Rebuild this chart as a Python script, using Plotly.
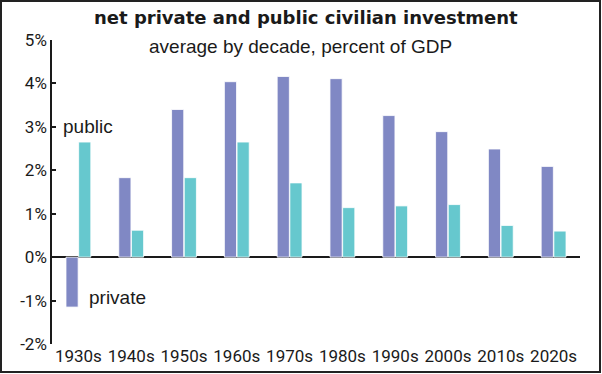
import plotly.graph_objects as go

decades = ["1930s", "1940s", "1950s", "1960s", "1970s", "1980s", "1990s", "2000s", "2010s", "2020s"]
private = [-1.15, 1.83, 3.40, 4.04, 4.16, 4.11, 3.26, 2.89, 2.49, 2.09]
public = [2.65, 0.62, 1.83, 2.65, 1.71, 1.14, 1.18, 1.21, 0.73, 0.60]
ytick_vals = [-2, -1, 0, 1, 2, 3, 4, 5]
ytick_text = ["-2%", "-1%", "0%", "1%", "2%", "3%", "4%", "5%"]

PRIV_COLOR = "#8088C4"
PUB_COLOR = "#66C8CE"
TXT = "#1a1a1a"
TICKFONT = "Roboto"
LABFONT = "Liberation Sans"

W, H = 602, 374
L, R, T, B = 52, 22, 40, 30
pw, ph = W - L - R, H - T - B

def px(x):
    return (x - L) / pw

def py(y):
    return (H - B - y) / ph

fig = go.Figure()
fig.add_trace(go.Bar(x=decades, y=private, name="private", marker_color=PRIV_COLOR,
                     marker_line_color="rgba(255,255,255,0.8)", marker_line_width=1))
fig.add_trace(go.Bar(x=decades, y=public, name="public", marker_color=PUB_COLOR,
                     marker_line_color="rgba(255,255,255,0.8)", marker_line_width=1))

fig.update_layout(
    width=W, height=H,
    margin=dict(l=L, r=R, t=T, b=B, pad=0, autoexpand=False),
    paper_bgcolor="white", plot_bgcolor="white",
    showlegend=False,
    barmode="group", bargap=0.52, bargroupgap=0.04,
    font=dict(family=TICKFONT, size=17, color=TXT),
    xaxis=dict(showline=False, showgrid=False, ticks="", zeroline=False, automargin=False,
               tickfont=dict(family=TICKFONT, size=17, color=TXT)),
    yaxis=dict(range=[-2, 5], tickvals=ytick_vals, ticktext=ytick_text, automargin=False,
               showgrid=False, showline=True, linecolor=TXT, linewidth=1.5,
               ticks="inside", ticklen=4, tickcolor=TXT, tickwidth=1.5,
               zeroline=True, zerolinecolor=TXT, zerolinewidth=1.5,
               tickfont=dict(family=TICKFONT, size=17, color=TXT)),
    annotations=[
        dict(text="<b>net private and public civilian investment</b>", xref="paper", yref="paper",
             x=px(306), y=py(18), xanchor="center", yanchor="middle", showarrow=False,
             font=dict(family="DejaVu Sans", size=18, color=TXT)),
        dict(text="average by decade, percent of GDP", xref="paper", yref="paper",
             x=px(300), y=py(46), xanchor="center", yanchor="middle", showarrow=False,
             font=dict(family=LABFONT, size=19, color=TXT)),
        dict(text="public", xref="paper", yref="y", x=px(61), y=3, xanchor="left",
             yanchor="middle", showarrow=False, font=dict(family=LABFONT, size=19, color=TXT)),
        dict(text="private", xref="paper", yref="y", x=px(87), y=-0.92, xanchor="left",
             yanchor="middle", showarrow=False, font=dict(family=LABFONT, size=19, color=TXT)),
    ],
    shapes=[
        dict(type="rect", xref="paper", yref="paper", x0=px(1), x1=px(600), y0=py(372), y1=py(1),
             line=dict(color="#222222", width=2), fillcolor="rgba(0,0,0,0)", layer="above"),
    ],
)

fig.write_html(
    "out.html",
    config={"displayModeBar": False},
    post_script=(
        "document.documentElement.style.margin='0';"
        "document.documentElement.style.overflow='hidden';"
        "document.body.style.margin='0';"
        "document.body.style.overflow='hidden';"
    ),
)
